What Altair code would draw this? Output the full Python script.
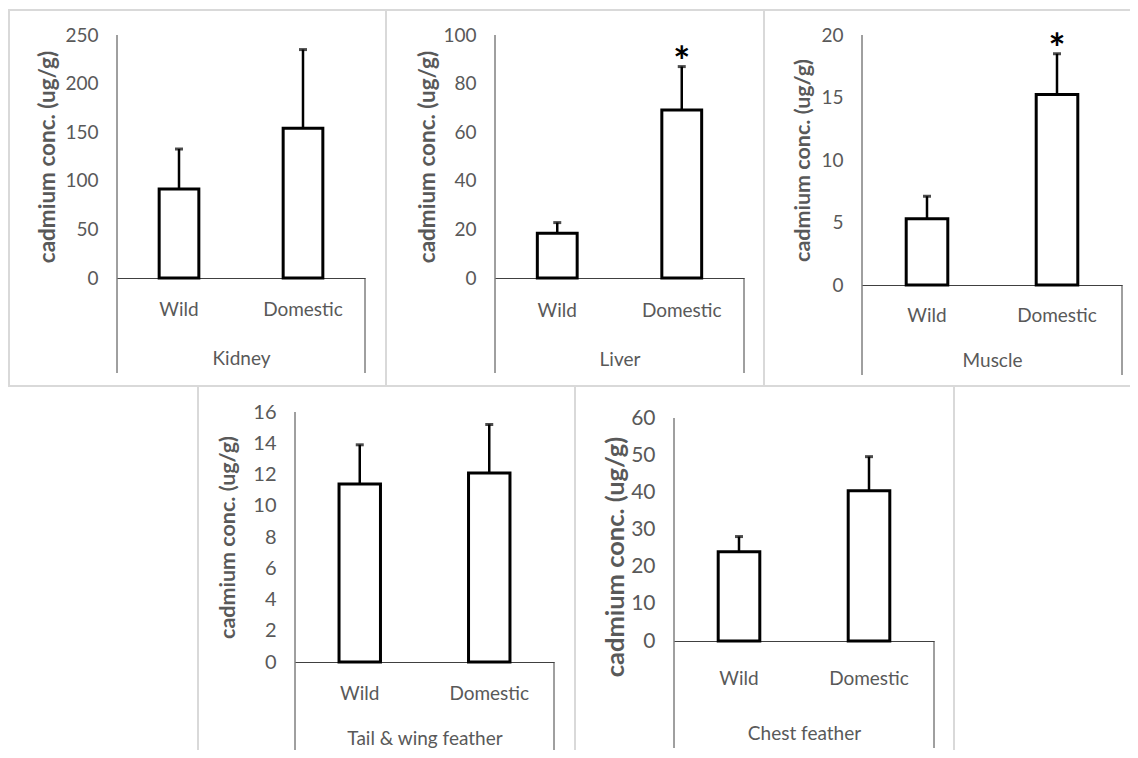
import altair as alt
import pandas as pd

# ---------------- data ----------------
organs = ["Kidney", "Liver", "Muscle", "Tail & wing feather", "Chest feather"]
groups = ["Wild", "Domestic"]
wild_mean = [91.6, 18.4, 5.3, 11.4, 24.0]
wild_err = [41.1, 4.4, 1.8, 2.5, 4.1]
domestic_mean = [154.0, 69.1, 15.25, 12.1, 40.4]
domestic_err = [81.0, 17.9, 3.25, 3.1, 9.2]
domestic_sig = [False, True, True, False, False]
y_max = [250, 100, 20, 16, 60]
y_step = [50, 20, 5, 2, 10]
y_title = "cadmium conc. (ug/g)"

FONT = "Lato"
GRAY = "#595959"
AXIS = "#404040"
BORDER = "#d9d9d9"

# layout per panel (pixels, relative to the plot origin); dmax = scale top (>= y_max)
layout = [
    dict(W=248, H=243, dmax=250, box=(-109, 270, -27, 352),
         lines=[(-109, 270, -26, -24), (-109, -107, -26, 352), (268, 270, -26, 352), (-109, 270, 350, 352)],
         lab=31, grp=80, div=95, tx=-70, tdy=0, tfs=22.5, lfs=19),
    dict(W=249, H=243, dmax=100, box=(-108, 270, -27, 352),
         lines=[(-108, 270, -26, -24), (268, 270, -26, 352), (-108, 270, 350, 352)],
         lab=32, grp=81, div=95, tx=-68, tdy=0, tfs=22.5, lfs=19),
    dict(W=260, H=250, dmax=20, box=(-97, 268, -27, 352),
         lines=[(-97, 268, -26, -24), (-97, 268, 350, 352)],
         lab=30, grp=75, div=90, tx=-59, tdy=0, tfs=21.5, lfs=19),
    dict(W=259, H=250, dmax=16, box=(-98, 281, -25, 338),
         lines=[(-98, -96, -25, 338), (279, 281, -25, 338)],
         lab=31, grp=76, div=88, tx=-67, tdy=0, tfs=21.5, lfs=20),
    dict(W=260, H=229, dmax=60 * 229 / 223, box=(-98, 281, -25, 338),
         lines=[(279, 281, -25, 338)],
         lab=37, grp=92, div=107, tx=-59, tdy=30, tfs=25.5, lfs=21),
]

one = pd.DataFrame({"k": [0]})


def panel(i):
    L = layout[i]
    W, H = L["W"], L["H"]
    df = pd.DataFrame({
        "group": groups,
        "mean": [wild_mean[i], domestic_mean[i]],
        "upper": [wild_mean[i] + wild_err[i], domestic_mean[i] + domestic_err[i]],
        "star": ["", "*" if domestic_sig[i] else ""],
    })
    yscale = alt.Scale(domain=[0, L["dmax"]], nice=False, zero=True)
    xscale = alt.Scale(paddingInner=0, paddingOuter=0)
    xaxis = alt.Axis(
        title=organs[i], labelAngle=0, ticks=False, tickSize=0, domainColor=AXIS, domainWidth=1,
        labelFont=FONT, labelFontSize=19, labelColor=GRAY, labelPadding=L["lab"], labelBaseline="middle",
        titleFont=FONT, titleFontSize=19, titleFontWeight="normal", titleColor=GRAY,
        titleX=W / 2, titleY=L["grp"], titleBaseline="middle", titleAlign="center", grid=False,
    )
    yaxis = alt.Axis(
        title=y_title, values=list(range(0, y_max[i] + 1, y_step[i])), ticks=False, tickSize=0,
        domain=False, grid=False, labelOverlap=False, labelSeparation=0, labelBound=False,
        labelFont=FONT, labelFontSize=L["lfs"], labelColor=GRAY, labelPadding=19,
        titleFont=FONT, titleFontSize=L["tfs"], titleFontWeight="bold", titleColor=GRAY,
        titleAngle=270, titleX=L["tx"], titleY=H / 2 + L["tdy"], titleAlign="center", titleBaseline="middle",
    )
    x_enc = alt.X("group:N", sort=groups, scale=xscale, axis=xaxis, title=organs[i])

    def y_enc(field):
        return alt.Y(field, scale=yscale, axis=yaxis, title=y_title)

    bars = alt.Chart(df).mark_bar(
        fill="white", stroke="black", strokeWidth=3, width=alt.RelativeBandSize(0.32)
    ).encode(x=x_enc, y=y_enc("mean:Q"))
    err = alt.Chart(df).mark_rule(color="black", strokeWidth=2.5).encode(
        x=x_enc, y=y_enc("mean:Q"), y2="upper:Q")
    caps = alt.Chart(df).mark_tick(color="black", size=8, thickness=3).encode(
        x=x_enc, y=y_enc("upper:Q"))
    star = alt.Chart(df).mark_text(
        font=FONT, fontSize=40, fontWeight="bold", color="black", baseline="alphabetic", dy=9
    ).encode(x=x_enc, y=y_enc("upper:Q"), text="star:N")
    # y axis line from 0 to the top tick value
    yline = alt.Chart(one).mark_rule(color=AXIS, strokeWidth=1).encode(
        x=alt.value(0), y=alt.datum(0, scale=yscale, axis=yaxis, title=y_title), y2=alt.datum(y_max[i]))

    layers = [bars, err, caps, star, yline]
    # category dividers below the axis (Excel style)
    for xv in (0, W):
        layers.append(alt.Chart(one).mark_rule(color=AXIS, strokeWidth=1).encode(
            x=alt.value(xv), y=alt.value(H), y2=alt.value(H + L["div"])))
    # invisible panel box defines the panel extent
    bx1, bx2, by1, by2 = L["box"]
    layers.append(alt.Chart(one).mark_rect(opacity=0).encode(
        x=alt.value(bx1), x2=alt.value(bx2), y=alt.value(by1), y2=alt.value(by2)))
    # visible light-gray panel border segments
    for (a, b, c, d) in L["lines"]:
        layers.append(alt.Chart(one).mark_rect(fill=BORDER).encode(
            x=alt.value(a), x2=alt.value(b), y=alt.value(c), y2=alt.value(d)))
    return alt.layer(*layers).properties(width=W, height=H)


spacer = alt.Chart(one).mark_rect(opacity=0).encode(
    x=alt.value(0), x2=alt.value(80), y=alt.value(0), y2=alt.value(1)
).properties(width=80, height=1)

top = alt.hconcat(panel(0), panel(1), panel(2), spacing=0)
bottom = alt.hconcat(spacer, panel(3), panel(4), spacing=0)
chart = alt.vconcat(top, bottom, spacing=0).properties(
    padding=0, background="white"
).configure_view(strokeWidth=0).configure_concat(spacing=0).configure_axis(labelOverlap=False)

chart.save("out.html", embed_options={"renderer": "svg", "actions": False})
